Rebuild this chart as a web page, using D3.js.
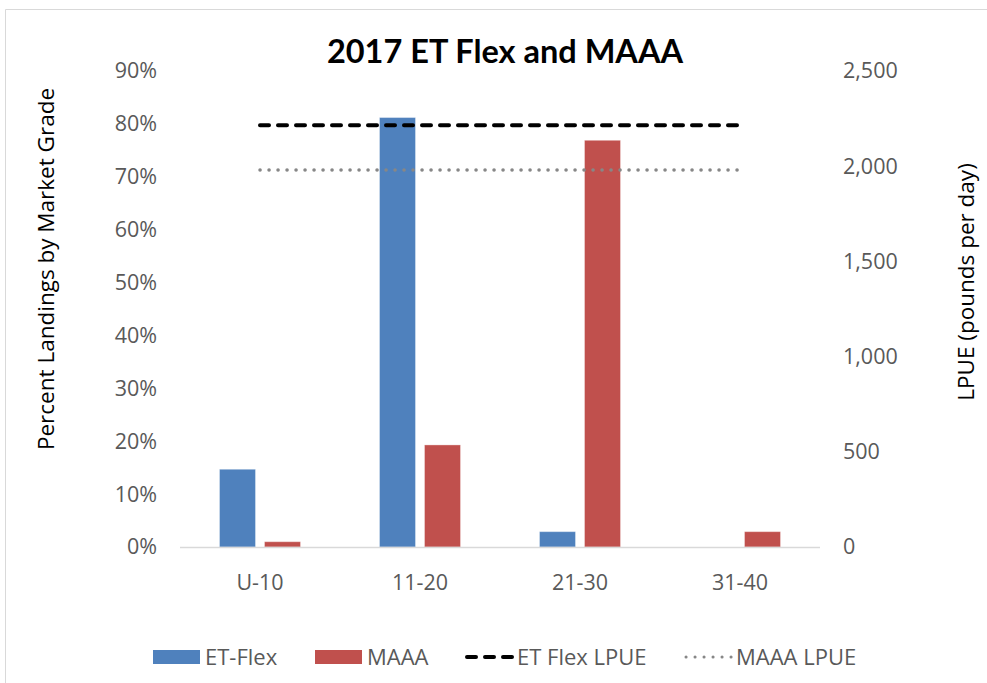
<!DOCTYPE html>
<html>
<head>
<meta charset="utf-8">
<script src="https://cdn.jsdelivr.net/npm/d3@7"></script>
<style>
  html, body { margin: 0; padding: 0; background: #fff; }
  svg { display: block; }
</style>
</head>
<body>
<svg id="chart" width="987" height="683"></svg>
<script>
// Market grade categories and share of landings per fleet
const categories = ["U-10", "11-20", "21-30", "31-40"];
const etFlexShare = [0.147, 0.812, 0.029, 0];
const maaaShare = [0.010, 0.193, 0.769, 0.029];
// LPUE (pounds per day), one value per fleet carried across all grades
const etFlexLpue = [2215, 2215, 2215, 2215];
const maaaLpue = [1980, 1980, 1980, 1980];
const leftTicks = [0, 0.1, 0.2, 0.3, 0.4, 0.5, 0.6, 0.7, 0.8, 0.9];
const rightTicks = [0, 500, 1000, 1500, 2000, 2500];
const legendItems = ["ET-Flex", "MAAA", "ET Flex LPUE", "MAAA LPUE"];

const svg = d3.select("#chart");
const font = "'Open Sans', sans-serif";
const tickColor = "#595959";
const blue = "#4f81bd", red = "#c0504d";
const tickSize = 21.5;

// chart frame
svg.append("path")
  .attr("d", "M5.5,683 V9.5 H987")
  .attr("fill", "none").attr("stroke", "#d9d9d9").attr("stroke-width", 1);

const plot = { left: 180, right: 820, top: 71, bottom: 547 };

const x0 = d3.scaleBand().domain(categories).range([plot.left, plot.right]).paddingInner(0).paddingOuter(0);
const yL = d3.scaleLinear().domain([0, 0.9]).range([plot.bottom, plot.top]);
const yR = d3.scaleLinear().domain([0, 2500]).range([plot.bottom, plot.top]);

const barW = 36, barGap = 9;
const series = [
  { name: "ET-Flex", values: etFlexShare, color: blue, offset: -(barW + barGap) / 2 },
  { name: "MAAA", values: maaaShare, color: red, offset: (barW + barGap) / 2 }
];

// left axis
const axL = d3.axisLeft(yL).tickValues(leftTicks).tickFormat(d3.format(".0%")).tickSize(0).tickPadding(23);
const gL = svg.append("g").attr("transform", `translate(${plot.left},0)`).call(axL);
gL.select(".domain").remove();
gL.selectAll("text").attr("font-family", font).attr("font-size", tickSize).attr("fill", tickColor);

// right axis
const axR = d3.axisRight(yR).tickValues(rightTicks).tickFormat(d3.format(",")).tickSize(0).tickPadding(23);
const gR = svg.append("g").attr("transform", `translate(${plot.right},0)`).call(axR);
gR.select(".domain").remove();
gR.selectAll("text").attr("font-family", font).attr("font-size", tickSize).attr("fill", tickColor);

// bars
series.forEach(s => {
  svg.append("g").selectAll("rect")
    .data(categories.map((c, i) => ({ c, v: s.values[i] })))
    .join("rect")
    .attr("x", d => x0(d.c) + x0.bandwidth() / 2 + s.offset - barW / 2)
    .attr("width", barW)
    .attr("y", d => yL(d.v))
    .attr("height", d => plot.bottom - yL(d.v))
    .attr("fill", s.color)
    .attr("stroke", "#fff").attr("stroke-opacity", 0.35).attr("stroke-width", 1);
});

// category axis
svg.append("line")
  .attr("x1", plot.left).attr("x2", plot.right)
  .attr("y1", plot.bottom + 0.5).attr("y2", plot.bottom + 0.5)
  .attr("stroke", "#d9d9d9").attr("stroke-width", 1.5);
svg.append("g").selectAll("text").data(categories).join("text")
  .attr("x", d => x0(d) + x0.bandwidth() / 2)
  .attr("y", 590)
  .attr("text-anchor", "middle")
  .attr("font-family", font).attr("font-size", tickSize).attr("fill", tickColor)
  .text(d => d);

// LPUE lines on the secondary axis
const cx = c => x0(c) + x0.bandwidth() / 2;
const line = d3.line().x((d, i) => cx(categories[i])).y(d => yR(d));
svg.append("path").datum(etFlexLpue).attr("d", line)
  .attr("fill", "none").attr("stroke", "#000").attr("stroke-width", 4)
  .attr("stroke-dasharray", "9,9").attr("stroke-linecap", "round");
svg.append("path").datum(maaaLpue).attr("d", line)
  .attr("fill", "none").attr("stroke", "#878787").attr("stroke-width", 3.5)
  .attr("stroke-dasharray", "0.1,8.9").attr("stroke-linecap", "round");

// title
svg.append("text").attr("x", 505).attr("y", 63).attr("text-anchor", "middle")
  .attr("font-family", "Lato, sans-serif").attr("font-weight", "bold").attr("font-size", 32.5)
  .attr("fill", "#000").text("2017 ET Flex and MAAA");

// axis titles
svg.append("text").attr("transform", "translate(54,269) rotate(-90)").attr("text-anchor", "middle")
  .attr("font-family", font).attr("font-size", 22.5).attr("fill", "#000")
  .text("Percent Landings by Market Grade");
svg.append("text").attr("transform", "translate(974,282) rotate(-90)").attr("text-anchor", "middle")
  .attr("font-family", font).attr("font-size", 22.5).attr("fill", "#000")
  .text("LPUE (pounds per day)");

// legend
const leg = svg.append("g");
const legX = [153, 315, 465, 684];
const legY = 657;
legendItems.forEach((name, i) => {
  const g = leg.append("g").attr("transform", `translate(${legX[i]},${legY})`);
  if (i < 2) {
    g.append("rect").attr("x", 0).attr("y", -7).attr("width", 47).attr("height", 14)
      .attr("fill", i === 0 ? blue : red);
  } else if (i === 2) {
    g.append("line").attr("x1", 2).attr("x2", 48).attr("y1", 0).attr("y2", 0)
      .attr("stroke", "#000").attr("stroke-width", 4)
      .attr("stroke-dasharray", "9,9").attr("stroke-linecap", "round");
  } else {
    g.append("line").attr("x1", 2).attr("x2", 48).attr("y1", 0).attr("y2", 0)
      .attr("stroke", "#878787").attr("stroke-width", 3)
      .attr("stroke-dasharray", "0.1,8.9").attr("stroke-linecap", "round");
  }
  g.append("text").attr("x", 52).attr("y", 0).attr("dy", "0.35em")
    .attr("font-family", font).attr("font-size", 22).attr("fill", tickColor)
    .text(name);
});
</script>
</body>
</html>
